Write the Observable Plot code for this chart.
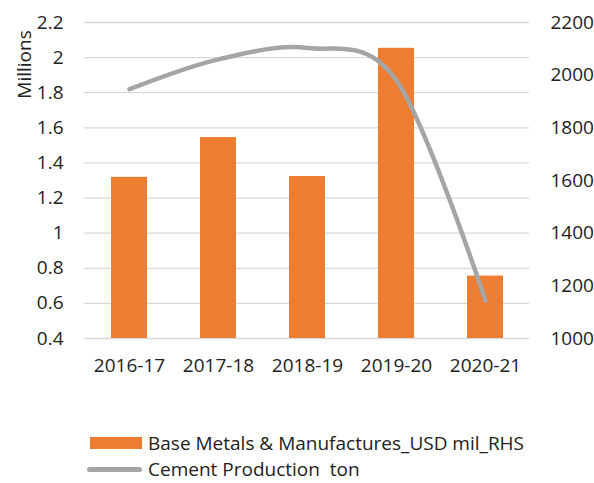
<!DOCTYPE html>
<html>
<head>
<meta charset="utf-8">
<script src="https://cdn.jsdelivr.net/npm/d3@7"></script>
<script src="https://cdn.jsdelivr.net/npm/@observablehq/plot@0.6"></script>
<style>
  html, body { margin: 0; padding: 0; background: #fff; }
  body { width: 594px; height: 483px; position: relative; overflow: hidden; font-family: "Open Sans", sans-serif; color: #222; }
  #chart { position: absolute; left: 0; top: 0; }
  .legend { position: absolute; left: 0; top: 0; font-size: 19px; line-height: 18px; }
  .row { position: absolute; left: 86px; height: 18px; display: flex; align-items: center; white-space: pre; }
  .sw-bar { width: 52px; height: 12px; background: #ed7d31; margin-left: 4px; margin-right: 6px; }
  .sw-line { width: 55px; height: 5px; border-radius: 3px; background: #a5a5a5; margin-left: 1px; margin-right: 6px; }
</style>
</head>
<body>
<div id="chart"></div>
<div class="legend">
  <div class="row" style="top:434px"><div class="sw-bar"></div><span id="lg1"></span></div>
  <div class="row" style="top:460px"><div class="sw-line"></div><span id="lg2"></span></div>
</div>
<script>
const years = ["2016-17", "2017-18", "2018-19", "2019-20", "2020-21"];
const baseMetals = [1612, 1763, 1615, 2102, 1237];      // USD mil, right axis
const cement = [1.82, 1.99, 2.055, 1.87, 0.615];        // millions ton, left axis
const leftTicks = [0.4, 0.6, 0.8, 1, 1.2, 1.4, 1.6, 1.8, 2, 2.2];
const rightTicks = [1000, 1200, 1400, 1600, 1800, 2000, 2200];
const seriesNames = ["Base Metals & Manufactures_USD mil_RHS", "Cement Production  ton"];

document.getElementById("lg1").textContent = seriesNames[0];
document.getElementById("lg2").textContent = seriesNames[1];

const leftDomain = [leftTicks[0], leftTicks[leftTicks.length - 1]];
const rightDomain = [rightTicks[0], rightTicks[rightTicks.length - 1]];
const toLeft = d3.scaleLinear().domain(rightDomain).range(leftDomain);

const data = years.map((year, i) => ({
  year,
  bar: baseMetals[i],
  barLeft: toLeft(baseMetals[i]),
  cement: cement[i]
}));

const chart = Plot.plot({
  width: 594,
  height: 420,
  marginLeft: 84,
  marginRight: 65,
  marginTop: 22,
  marginBottom: 82,
  style: { fontFamily: "Open Sans, sans-serif", fontSize: "19px", color: "#222", background: "transparent" },
  x: { type: "band", domain: years, paddingInner: 0.6, paddingOuter: 0.3, label: null },
  y: { domain: leftDomain, label: null },
  marks: [
    Plot.gridY(leftTicks, { stroke: "#d9d9d9", strokeOpacity: 1, strokeWidth: 1.3 }),
    Plot.barY(data, { x: "year", y1: leftDomain[0], y2: "barLeft", fill: "#ed7d31" }),
    Plot.line(data, { x: "year", y: "cement", stroke: "#a5a5a5", strokeWidth: 4.5, strokeLinecap: "round", strokeLinejoin: "round", curve: d3.curveCardinal.tension(0) }),
    Plot.axisY(leftTicks, { anchor: "left", tickSize: 0, tickPadding: 21, tickFormat: d => String(d), label: null }),
    Plot.axisY(rightTicks.map(toLeft), { anchor: "right", tickSize: 0, tickPadding: 21, tickFormat: d => String(Math.round(toLeft.invert(d))), label: null }),
    Plot.axisX({ tickSize: 0, tickPadding: 20, label: null }),
    Plot.text(["Millions"], { frameAnchor: "top-left", dx: -67, dy: 42, rotate: -90, textAnchor: "middle", fontSize: 19, fill: "#222" })
  ]
});
document.getElementById("chart").appendChild(chart);
</script>
</body>
</html>
